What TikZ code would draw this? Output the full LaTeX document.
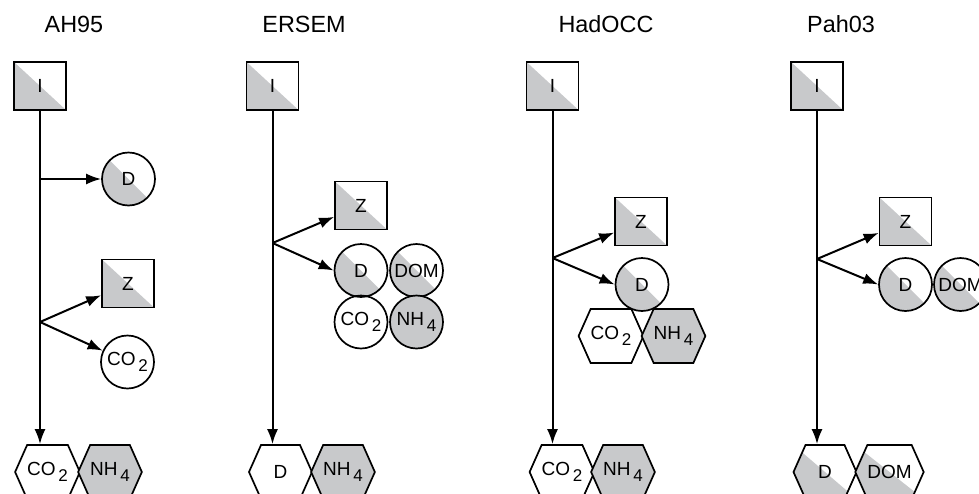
\documentclass[tikz,border=0pt]{standalone}
\usepackage{fontspec}
\setmainfont{Liberation Sans}
\usetikzlibrary{arrows.meta}
\usetikzlibrary{shapes.symbols}
\definecolor{cellgray}{RGB}{200,201,203}
\newcommand{\lowidx}[1]{\kern1.4pt\raisebox{-3pt}{\fontsize{8.5}{9}\selectfont #1}}

\begin{document}
\begin{tikzpicture}[x=0.5pt, y=-0.5pt,
    model/.style={font=\fontsize{11.7}{14}\selectfont},
    cell/.style={draw=black, line width=0.85pt, inner sep=0pt, font=\fontsize{9.5}{10}\selectfont},
    box/.style={cell, rectangle, minimum width=26pt, minimum height=24pt},
    pool/.style={cell, circle, minimum size=26.5pt},
    hexa/.style={cell, signal, signal to=west and east, signal pointer angle=132, minimum width=31.5pt, minimum height=27pt},
    halfgray/.style={path picture={\fill[cellgray] (path picture bounding box.north west) -- (path picture bounding box.south west) -- (path picture bounding box.south east) -- cycle;}},
    fullgray/.style={fill=cellgray},
    flux/.style={-{Latex[length=7.5pt,width=5.5pt]}, line width=1pt}]
    \useasboundingbox (0,0) rectangle (979,493);
    \clip (0,0) rectangle (979,493);

    % AH95
    \node[model] (t1) at (74,24) {AH95};
    \node[box, halfgray] (I1) at (40,86) {I};
    \node[pool, halfgray] (D1) at (128.5,179) {D};
    \node[box, halfgray] (Z1) at (128,283.5) {Z};
    \node[pool] (C1) at (127.5,362) {CO\lowidx{2}};
    \node[hexa] (H1a) at (47.5,472) {CO\lowidx{2}};
    \node[hexa, fullgray] (H1b) at (110,472) {NH\lowidx{4}};
    \coordinate (d1) at (I1.south |- D1.west);
    \coordinate (b1) at (I1.south |- 0,322);
    \draw[flux] (I1.south) -- (I1.south |- H1a.north);
    \draw[flux] (d1) -- (D1);
    \draw[flux] (b1) -- (Z1);
    \draw[flux] (b1) -- (C1);

    % ERSEM
    \node[model] (t2) at (304,24) {ERSEM};
    \node[box, halfgray] (I2) at (272.5,86) {I};
    \node[box, halfgray] (Z2) at (361,205.5) {Z};
    \node[pool, halfgray] (D2) at (361,270.5) {D};
    \node[pool, halfgray] (M2) at (416.5,270.5) {DOM};
    \node[pool] (C2) at (361,322) {CO\lowidx{2}};
    \node[pool, fullgray] (N2) at (416.5,322) {NH\lowidx{4}};
    \node[hexa] (H2a) at (280.5,472) {D};
    \node[hexa, fullgray] (H2b) at (343,472) {NH\lowidx{4}};
    \coordinate (b2) at (I2.south |- 0,243);
    \draw[flux] (I2.south) -- (I2.south |- H2a.north);
    \draw[flux] (b2) -- (Z2);
    \draw[flux] (b2) -- (D2.west);

    % HadOCC
    \node[model] (t3) at (606,24) {HadOCC};
    \node[box, halfgray] (I3) at (552.5,86) {I};
    \node[box, halfgray] (Z3) at (641,221.5) {Z};
    \node[pool, halfgray] (D3) at (642,284.5) {D};
    \node[hexa] (C3) at (611,336) {CO\lowidx{2}};
    \node[hexa, fullgray] (N3) at (673.5,336) {NH\lowidx{4}};
    \node[hexa] (H3a) at (562,472) {CO\lowidx{2}};
    \node[hexa, fullgray] (H3b) at (623,472) {NH\lowidx{4}};
    \coordinate (b3) at (I3.south |- 0,258);
    \draw[flux] (I3.south) -- (I3.south |- H3a.north);
    \draw[flux] (b3) -- (Z3);
    \draw[flux] (b3) -- (D3.west);

    % Pah03
    \node[model] (t4) at (841,24) {Pah03};
    \node[box, halfgray] (I4) at (817,86) {I};
    \node[box, halfgray] (Z4) at (905.5,221.5) {Z};
    \node[pool, halfgray] (D4) at (905.5,284.5) {D};
    \node[pool, halfgray] (M4) at (960.5,284.5) {DOM};
    \node[hexa, halfgray] (H4a) at (825,472) {D};
    \node[hexa, halfgray] (H4b) at (889.5,472) {DOM};
    \coordinate (b4) at (I4.south |- 0,259);
    \draw[flux] (I4.south) -- (I4.south |- H4a.north);
    \draw[flux] (b4) -- (Z4);
    \draw[flux] (b4) -- (D4.west);
\end{tikzpicture}
\end{document}
